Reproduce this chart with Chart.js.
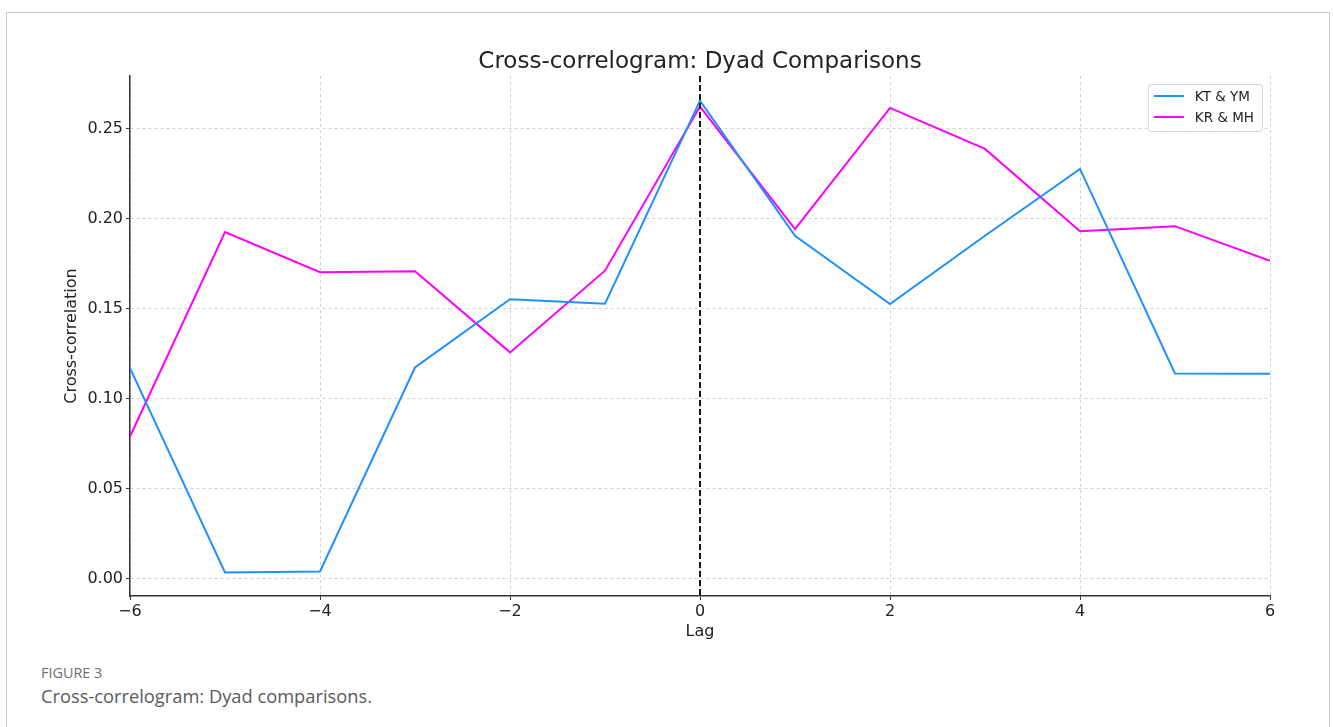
<!DOCTYPE html>
<html>
<head>
<meta charset="utf-8">
<title>Cross-correlogram: Dyad Comparisons</title>
<script src="https://cdn.jsdelivr.net/npm/chart.js@4.4.1/dist/chart.umd.min.js"></script>
<style>
  body {
    margin: 0;
    background: #ffffff;
    width: 1333px;
    height: 727px;
    overflow: hidden;
    position: relative;
    font-family: "Open Sans", "Noto Sans", sans-serif;
  }
  #frame {
    position: absolute;
    left: 6px;
    top: 12px;
    width: 1324px;
    height: 740px;
    border: 1px solid #c8c8c8;
    box-sizing: border-box;
  }
  #chartBox {
    position: absolute;
    left: 0;
    top: 0;
    width: 1333px;
    height: 650px;
  }
  .fig-label {
    position: absolute;
    left: 41px;
    top: 663px;
    font-size: 14.4px;
    color: #707070;
  }
  .fig-caption {
    position: absolute;
    left: 41px;
    top: 683px;
    font-size: 18.3px;
    color: #5a5a5a;
  }
</style>
</head>
<body>
<div id="frame"></div>
<div id="chartBox"><canvas id="ccf" width="1333" height="650"></canvas></div>
<div class="fig-label">FIGURE 3</div>
<div class="fig-caption">Cross-correlogram: Dyad comparisons.</div>

<script>
// lags and cross-correlation values
const lags = [-6, -5, -4, -3, -2, -1, 0, 1, 2, 3, 4, 5, 6];
const ktYm = [0.117, 0.0035, 0.004, 0.1173, 0.1552, 0.1527, 0.2655, 0.1905, 0.1526, 0.1905, 0.2276, 0.114, 0.1138];
const krMh = [0.079, 0.1925, 0.1702, 0.1708, 0.1257, 0.1711, 0.2622, 0.1942, 0.2615, 0.2387, 0.193, 0.1958, 0.1765];
const seriesNames = ["KT & YM", "KR & MH"];
const seriesColors = ["#1e90ff", "#ff00ff"];
const xTicks = [-6, -4, -2, 0, 2, 4, 6];
const yTicks = [0, 0.05, 0.1, 0.15, 0.2, 0.25];

const chartTitle = "Cross-correlogram: Dyad Comparisons";
const fontFam = "'DejaVu Sans', sans-serif";

function toPoints(vals) {
  return lags.map((l, i) => ({ x: l, y: vals[i] }));
}

function fmtLag(v) {
  return v < 0 ? "\u2212" + Math.abs(v) : String(v);
}

// title, zero-lag marker and the in-plot legend
const extrasPlugin = {
  id: "extras",
  afterDatasetsDraw(chart) {
    const { ctx, chartArea, scales } = chart;
    const x0 = scales.x.getPixelForValue(0);
    ctx.save();
    ctx.strokeStyle = "#000";
    ctx.lineWidth = 1.8;
    ctx.setLineDash([6, 3]);
    ctx.beginPath();
    ctx.moveTo(x0, chartArea.top);
    ctx.lineTo(x0, chartArea.bottom);
    ctx.stroke();
    ctx.restore();
  },
  afterDraw(chart) {
    const { ctx, chartArea } = chart;
    ctx.save();
    ctx.fillStyle = "#222";
    ctx.font = "23px " + fontFam;
    ctx.textAlign = "center";
    ctx.textBaseline = "alphabetic";
    ctx.fillText(chartTitle, (chartArea.left + chartArea.right) / 2, 68);

    // legend box
    ctx.font = "13.5px " + fontFam;
    let textW = 0;
    chart.data.datasets.forEach((ds) => {
      textW = Math.max(textW, ctx.measureText(ds.label).width);
    });
    const boxW = 6 + 30 + 11 + textW + 8;
    const boxH = 47;
    const bx = chartArea.right - 8 - boxW;
    const by = chartArea.top + 8;
    ctx.fillStyle = "rgba(255,255,255,0.85)";
    ctx.strokeStyle = "#d4d4d4";
    ctx.lineWidth = 1;
    ctx.beginPath();
    ctx.roundRect(bx + 0.5, by + 0.5, boxW, boxH, 3);
    ctx.fill();
    ctx.stroke();

    chart.data.datasets.forEach((ds, i) => {
      const ly = by + 12 + i * 21;
      ctx.strokeStyle = ds.borderColor;
      ctx.lineWidth = 2;
      ctx.beginPath();
      ctx.moveTo(bx + 6, ly);
      ctx.lineTo(bx + 36, ly);
      ctx.stroke();
      ctx.fillStyle = "#222";
      ctx.textAlign = "left";
      ctx.textBaseline = "middle";
      ctx.fillText(ds.label, bx + 47, ly + 1);
    });
    ctx.restore();
  },
};

const ctx = document.getElementById("ccf").getContext("2d");

const chart = new Chart(ctx, {
  type: "line",
  data: {
    datasets: [
      {
        label: seriesNames[0],
        data: toPoints(ktYm),
        borderColor: seriesColors[0],
        borderWidth: 2,
        pointRadius: 0,
        tension: 0,
        fill: false,
      },
      {
        label: seriesNames[1],
        data: toPoints(krMh),
        borderColor: seriesColors[1],
        borderWidth: 2,
        pointRadius: 0,
        tension: 0,
        fill: false,
      },
    ],
  },
  options: {
    responsive: false,
    animation: false,
    devicePixelRatio: 1,
    layout: {
      padding: { left: 0, top: 76, right: 63, bottom: 0 },
    },
    plugins: {
      legend: { display: false },
      title: { display: false },
      tooltip: { enabled: false },
    },
    scales: {
      x: {
        type: "linear",
        min: -6,
        max: 6,
        afterBuildTicks: (scale) => {
          scale.ticks = xTicks.map((v) => ({ value: v }));
        },
        afterFit: (scale) => {
          scale.height = 54;
        },
        grid: {
          color: "#d3d3d3",
          lineWidth: 1,
          tickColor: "#333",
          tickLength: 4,
          tickWidth: 1,
          tickBorderDash: [],
        },
        border: { color: "#333", width: 1.5, dash: [3, 3] },
        ticks: {
          color: "#222",
          padding: 2,
          maxRotation: 0,
          font: { family: fontFam, size: 16 },
          callback: (v) => fmtLag(v),
        },
        title: {
          display: true,
          text: "Lag",
          color: "#222",
          font: { family: fontFam, size: 16 },
          padding: { top: 0, bottom: 9 },
        },
      },
      y: {
        type: "linear",
        min: -0.0096,
        max: 0.2792,
        afterBuildTicks: (scale) => {
          scale.ticks = yTicks.map((v) => ({ value: v }));
        },
        afterFit: (scale) => {
          scale.width = 130;
        },
        grid: {
          color: "#d3d3d3",
          lineWidth: 1,
          tickColor: "#333",
          tickLength: 4,
          tickWidth: 1,
          tickBorderDash: [],
        },
        border: { color: "#333", width: 1.5, dash: [3, 3] },
        ticks: {
          color: "#222",
          padding: 3,
          font: { family: fontFam, size: 16 },
          callback: (v) => v.toFixed(2),
        },
        title: {
          display: true,
          text: "Cross-correlation",
          color: "#222",
          font: { family: fontFam, size: 16 },
          padding: { top: 62, bottom: 0 },
        },
      },
    },
  },
  plugins: [extrasPlugin],
});
</script>
</body>
</html>
